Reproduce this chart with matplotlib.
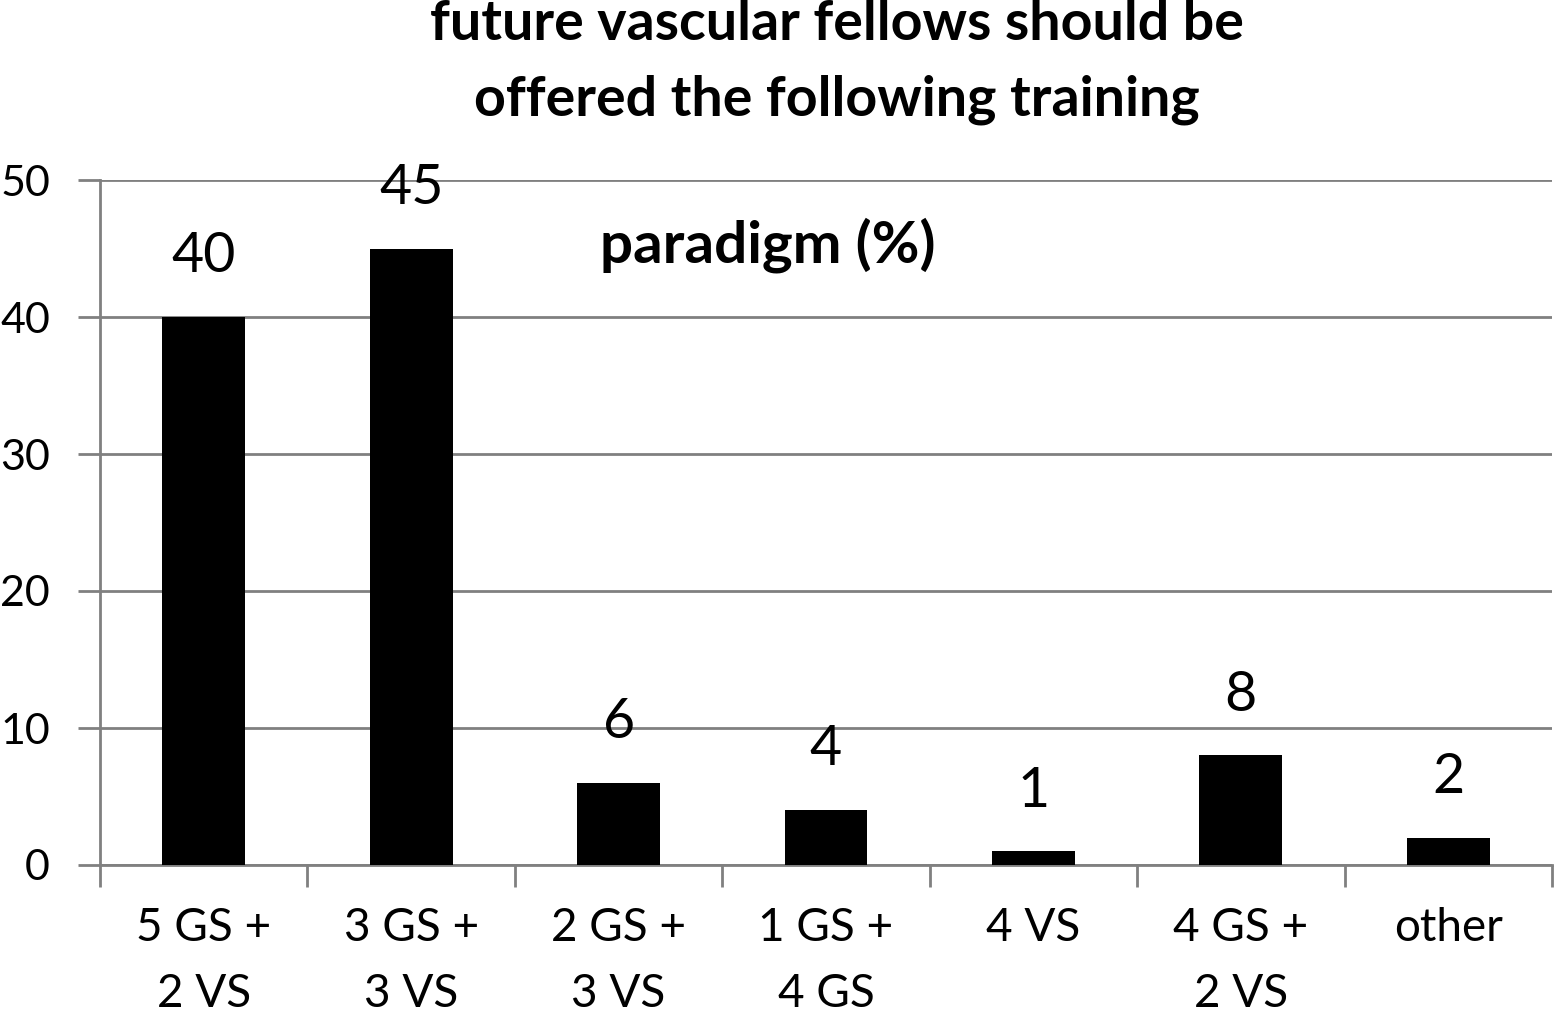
import matplotlib
matplotlib.use("Agg")
from matplotlib import pyplot as plt
import numpy as np

categories = ["5 GS +\n2 VS", "3 GS +\n3 VS", "2 GS +\n3 VS", "1 GS +\n4 GS",
              "4 VS", "4 GS +\n2 VS", "other"]
values = [40, 45, 6, 4, 1, 8, 2]
y_ticks = [0, 10, 20, 30, 40, 50]
title_lines = "future vascular fellows should be\noffered the following training"
subtitle = "paradigm (%)"

plt.rcParams['font.family'] = ['Lato', 'DejaVu Sans']
grey = '#808080'

fig = plt.figure(figsize=(15.57, 10.18), dpi=100)
ax = fig.add_axes([100 / 1557, 153 / 1018, 1452 / 1557, 685 / 1018])

x = np.arange(len(categories))
bars = ax.bar(x, values, width=0.4, color='black', zorder=3)

for xi, v in zip(x, values):
    ax.annotate(str(v), (xi, v), xytext=(0, 25), textcoords='offset points',
                ha='center', va='bottom', fontsize=40)

ax.set_xlim(-0.5, len(categories) - 0.5)
ax.set_ylim(0, 50)
ax.set_yticks(y_ticks)
ax.set_yticklabels([str(t) for t in y_ticks], fontsize=31)
ax.yaxis.grid(True, color=grey, linewidth=2, zorder=0)

# boundaries get the tick marks, centres get the labels
ax.set_xticks(np.arange(-0.5, len(categories)), minor=False)
ax.set_xticklabels([])
ax.set_xticks(x, minor=True)
ax.set_xticklabels(categories, minor=True, fontsize=33, linespacing=1.72)
ax.tick_params(axis='x', which='major', length=16, width=2, color=grey, direction='out')
ax.tick_params(axis='x', which='minor', length=0, pad=30)
ax.tick_params(axis='y', length=16, width=2, color=grey, pad=20)

for side in ['top', 'right']:
    ax.spines[side].set_visible(False)
for side in ['left', 'bottom']:
    ax.spines[side].set_color(grey)
    ax.spines[side].set_linewidth(2)

fig.text(837 / 1557, 1 - 62 / 1018, title_lines, ha='center', va='center',
         fontsize=40, fontweight='bold', linespacing=1.62)
fig.text(768 / 1557, 1 - 245 / 1018, subtitle, ha='center', va='center',
         fontsize=42, fontweight='bold')

fig.savefig('out.png', dpi=100)
